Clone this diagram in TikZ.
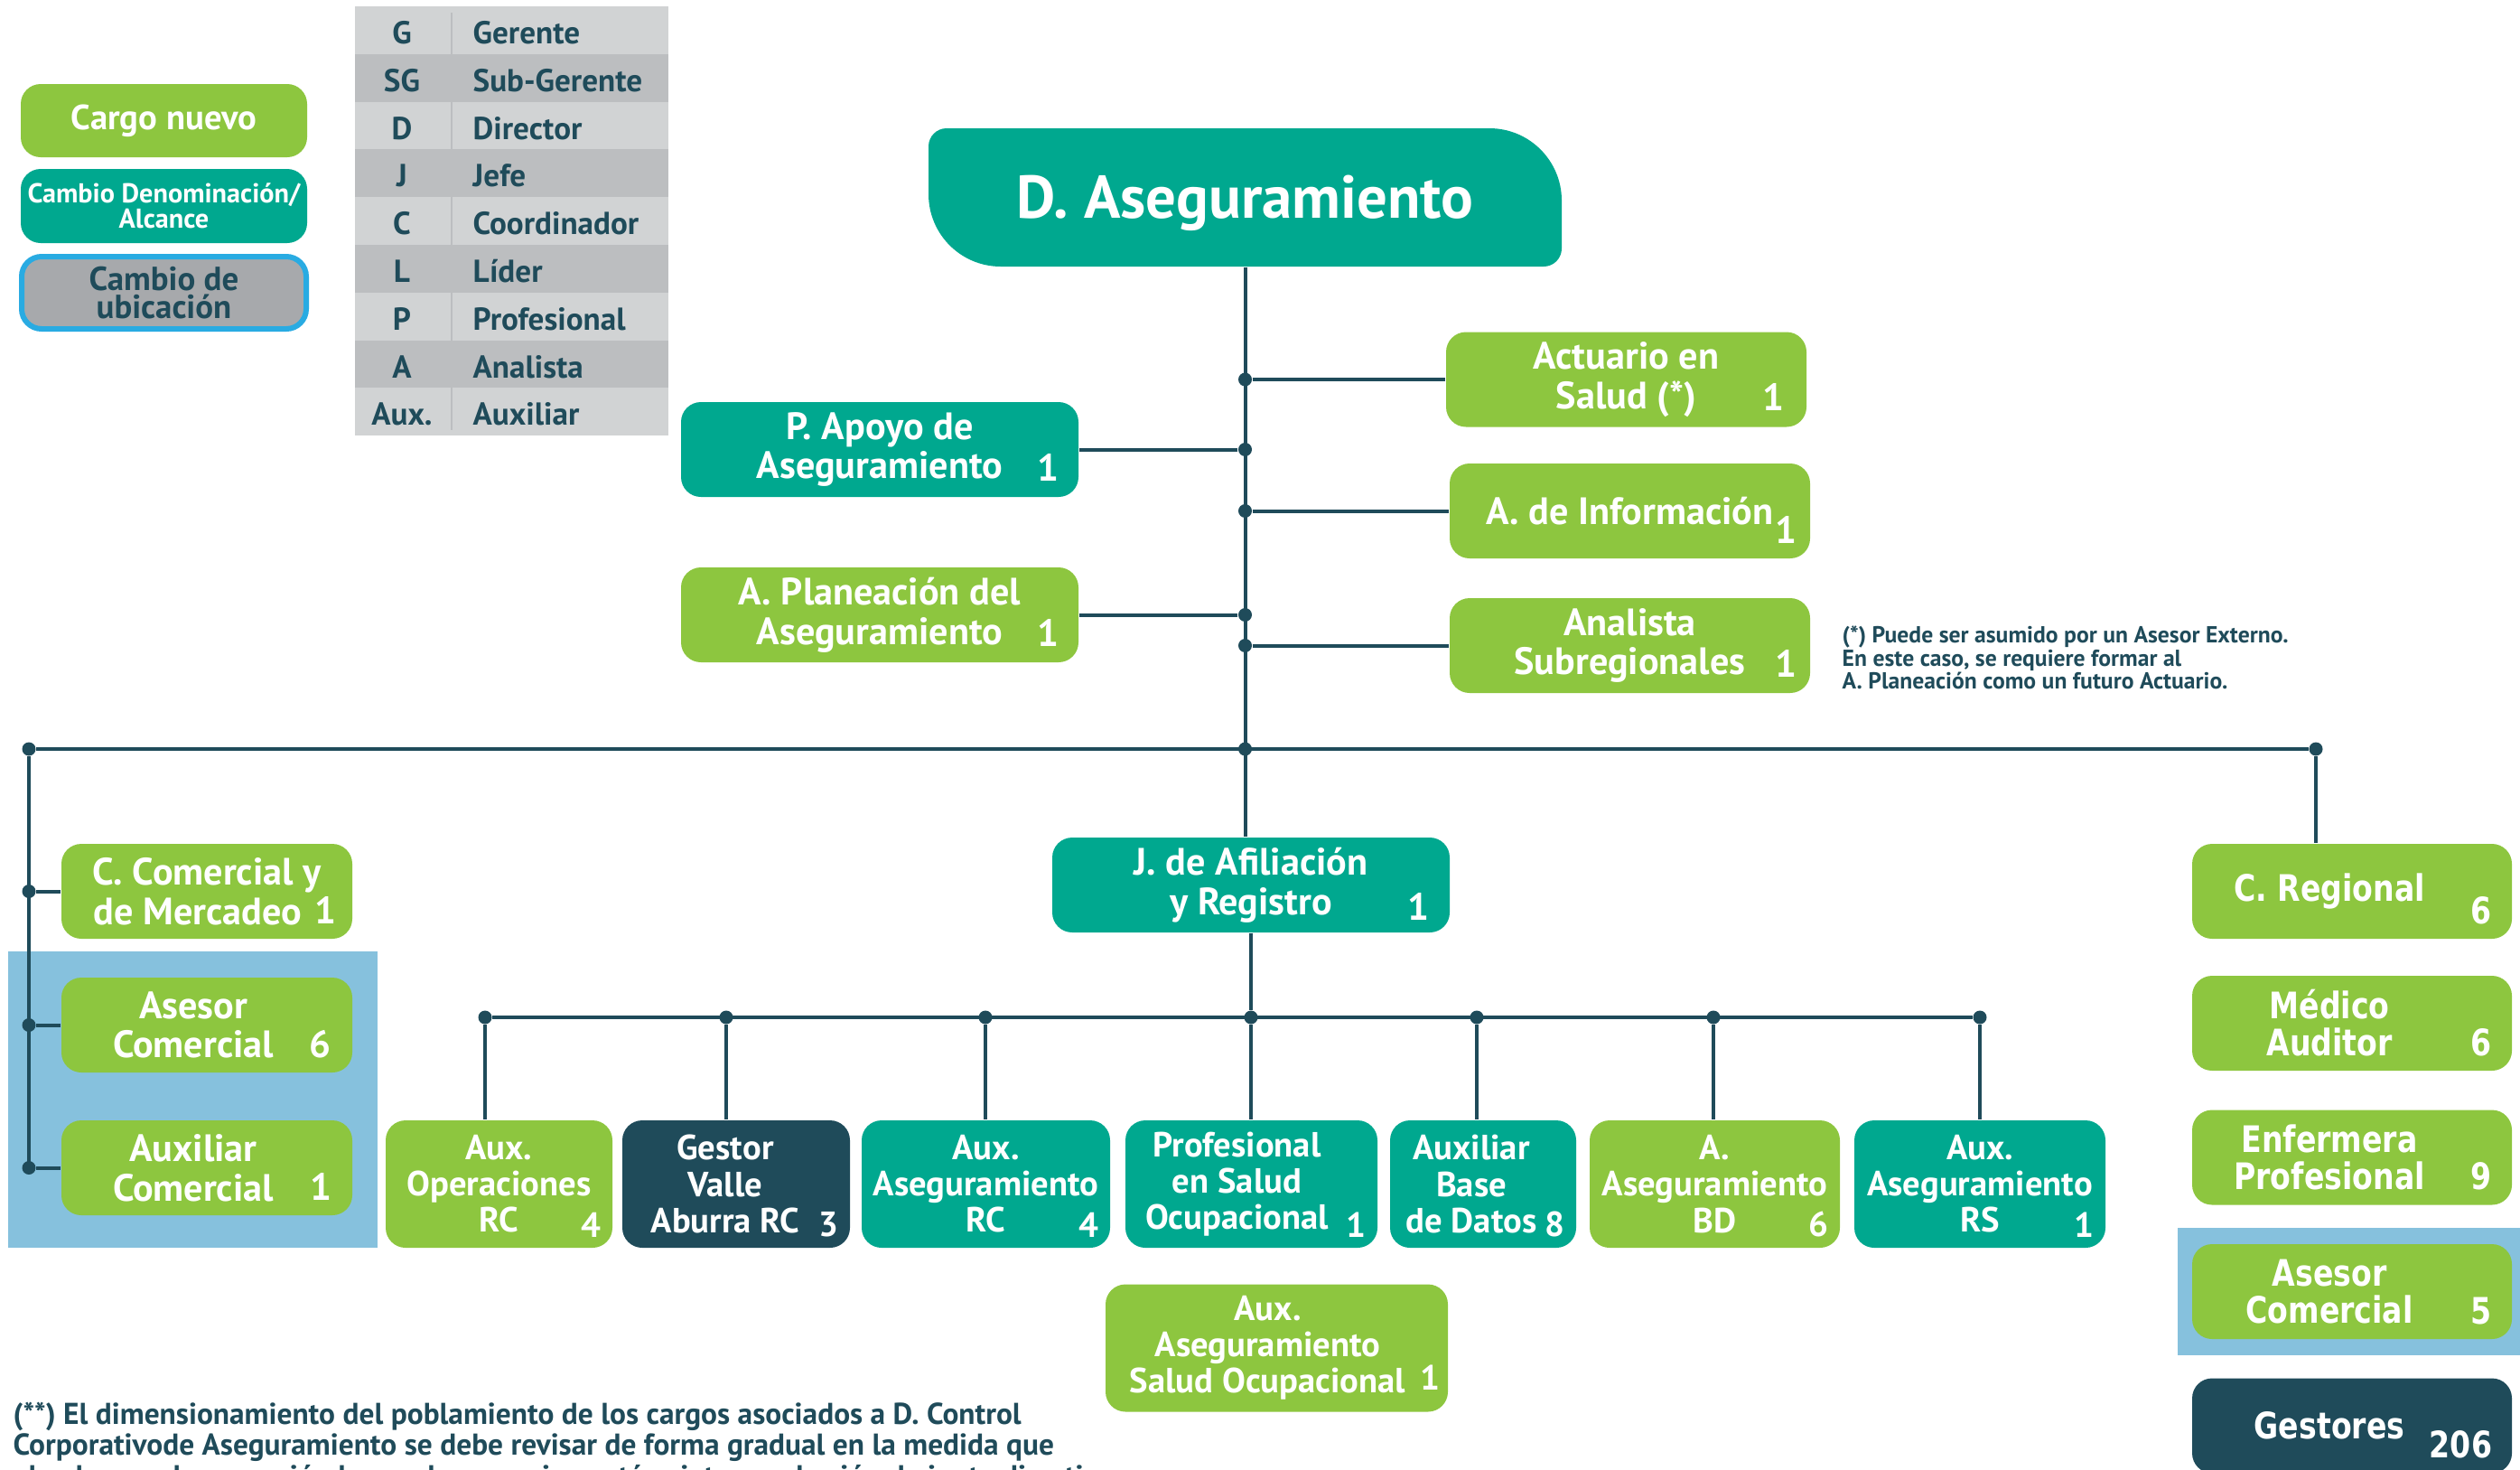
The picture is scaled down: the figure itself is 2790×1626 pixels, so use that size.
\documentclass[tikz,border=0pt]{standalone}
\usepackage{fontspec}
\setmainfont{PT Sans}
\newfontfamily\widesf{DejaVu Sans}[FakeStretch=0.82]
\definecolor{cnew}{HTML}{8DC63F}
\definecolor{cchg}{HTML}{00A88F}
\definecolor{cdark}{HTML}{1F4B5A}
\definecolor{cloc}{HTML}{A7A9AC}
\definecolor{cedge}{HTML}{29ABE2}
\definecolor{cblue}{HTML}{86C1DD}
\definecolor{rowA}{HTML}{D1D3D4}
\definecolor{rowB}{HTML}{BCBEC0}
\newcommand{\padr}[1]{\rule{#1}{0pt}}

\begin{document}
\begin{tikzpicture}[
  x=0.1mm, y=-0.1mm,
  box/.style={
    rounded corners=2.2mm, text=white, align=center,
    inner sep=0pt, minimum height=10.5mm,
    font=\bfseries\fontsize{12}{12.4}\selectfont
  },
  low/.style={box, minimum height=14.1mm, font=\bfseries\fontsize{11}{11.4}\selectfont},
  rgt/.style={box, minimum width=35.4mm, font=\widesf\bfseries\fontsize{11.5}{11.7}\selectfont},
  cnt/.style={text=white, inner sep=0pt, anchor=south east, font=\bfseries\fontsize{12}{12}\selectfont},
  dot/.style={circle, fill=cdark, inner sep=0pt, minimum size=1.5mm},
  link/.style={draw=cdark, line width=0.4mm},
  tab/.style={text=cdark, inner sep=0pt, font=\bfseries\fontsize{10}{10}\selectfont},
  note/.style={text=cdark, align=left, inner sep=0pt, anchor=north west}
]
  \useasboundingbox (0,0) rectangle (2790,1626);
  \clip (0,0) rectangle (2790,1626);

  % legend
  \node[box, fill=cnew, minimum width=31.7mm, minimum height=8.1mm,
    font=\bfseries\fontsize{11}{11}\selectfont] (lnew) at (181.5,133.5) {Cargo nuevo};
  \node[box, fill=cchg, minimum width=31.7mm, minimum height=8.2mm,
    font=\bfseries\fontsize{8.6}{7.8}\selectfont] (lchg) at (181.5,228) {Cambio Denominación/\\Alcance};
  \node[box, fill=cloc, draw=cedge, line width=0.6mm, text=cdark, minimum width=31.5mm,
    minimum height=8mm, font=\bfseries\fontsize{10.5}{9}\selectfont] (lloc) at (181.5,324) {Cambio de\\ubicación};

  % abbreviations
  \foreach \ab/\nm/\rc [count=\i] in {G/Gerente/rowA, SG/Sub-Gerente/rowB, D/Director/rowA,
      J/Jefe/rowB, C/Coordinador/rowA, L/Líder/rowB, P/Profesional/rowA, A/Analista/rowB,
      Aux./Auxiliar/rowA} {
    \fill[\rc] (393,{7+(\i-1)*52.8}) rectangle (740,{7+\i*52.8});
    \node[tab, anchor=base] (ab\i) at (445,{48.5+(\i-1)*52.8}) {\ab};
    \node[tab, anchor=base west] (nm\i) at (523,{48.5+(\i-1)*52.8}) {\nm};
  }
  \draw[rowB, line width=0.25mm] (500,14) -- (500,476);

  % director
  \fill[cchg] (1028,162) arc[start angle=180, end angle=270, radius=20] -- (1649,142)
    arc[start angle=270, end angle=360, radius=80] -- (1729,275)
    arc[start angle=0, end angle=90, radius=20] -- (1108,295)
    arc[start angle=90, end angle=180, radius=80] -- cycle;
  \node[text=white, inner sep=0pt, minimum width=70.1mm, minimum height=15.3mm,
    text height=13.3pt, text depth=0pt, font=\bfseries\fontsize{19}{19}\selectfont]
    (dir) at (1378.5,218.5) {D. Aseguramiento};

  % staff
  \node[box, fill=cnew, minimum width=39.9mm] (act) at (1800.5,420) {Actuario en\\Salud (*)};
  \node[cnt] (nact) at ([shift={(-2.5mm,1.8mm)}]act.south east) {1};
  \node[box, fill=cnew, minimum width=39.9mm] (inf) at (1804.5,565.5) {A. de Información};
  \node[cnt] (ninf) at ([shift={(-1.5mm,1.7mm)}]inf.south east) {1};
  \node[box, fill=cnew, minimum width=39.9mm] (sub) at (1804.5,714.5) {Analista\\Subregionales};
  \node[cnt] (nsub) at ([shift={(-1.5mm,1.8mm)}]sub.south east) {1};
  \node[box, fill=cchg, minimum width=44mm] (apo) at (974,497.5) {P. Apoyo de\\Aseguramiento};
  \node[cnt] (napo) at ([shift={(-2.2mm,1.8mm)}]apo.south east) {1};
  \node[box, fill=cnew, minimum width=44mm] (pla) at (974,680.5) {A. Planeación del\\Aseguramiento};
  \node[cnt] (npla) at ([shift={(-2.2mm,1.8mm)}]pla.south east) {1};
  \node[box, fill=cchg, minimum width=44mm] (J) at (1385,979.5) {J. de Afiliación\\y Registro};
  \node[cnt] (nJ) at ([shift={(-2.3mm,1.4mm)}]J.south east) {1};

  % commercial column
  \fill[cblue] (9,1053) rectangle (418,1381);
  \node[box, fill=cnew, minimum width=32.2mm] (com) at (229,986.5) {C. Comercial y\\de Mercadeo\padr{2mm}};
  \node[cnt] (ncom) at ([shift={(-1.8mm,1.7mm)}]com.south east) {1};
  \node[box, fill=cnew, minimum width=32.2mm] (ase) at (229,1134.5) {Asesor\padr{3mm}\\Comercial\padr{3mm}};
  \node[cnt] (nase) at ([shift={(-2.4mm,1.6mm)}]ase.south east) {6};
  \node[box, fill=cnew, minimum width=32.2mm] (auxc) at (229,1292.5) {Auxiliar\padr{3mm}\\Comercial\padr{3mm}};
  \node[cnt] (nauxc) at ([shift={(-2.3mm,1.7mm)}]auxc.south east) {1};

  % regional column
  \fill[cblue] (2411,1359) rectangle (2790,1500);
  \foreach \nm/\y/\fc/\txt/\n in {reg/986.5/cnew/{C. Regional\padr{5mm}}/6,
      med/1132.5/cnew/{Médico\padr{5mm}\\Auditor\padr{5mm}}/6,
      enf/1281/cnew/{Enfermera\padr{5mm}\\Profesional\padr{5mm}}/9,
      ase2/1429.5/cnew/{Asesor\padr{5mm}\\Comercial\padr{5mm}}/5,
      ges/1578/cdark/{Gestores\padr{5mm}}/206} {
    \node[rgt, fill=\fc] (\nm) at (2604,\y) {\txt};
    \node[cnt, font=\widesf\bfseries\fontsize{11.5}{11.5}\selectfont] (n\nm)
      at ([shift={(-2.2mm,1.6mm)}]\nm.south east) {\n};
  }

  % operation boxes
  \foreach \nm/\cx/\dx/\w/\fc/\txt/\n in {
      aop/552.5/537/25.1/cnew/{Aux.\\Operaciones\\RC}/4,
      gva/815/804/25.2/cdark/{Gestor\padr{2.4mm}\\Valle\padr{2.4mm}\\Aburra RC\padr{2.4mm}}/3,
      arc/1091.5/1091/27.5/cchg/{Aux.\\Aseguramiento\\RC}/4,
      pso/1385.5/1385/27.9/cchg/{Profesional\padr{3.2mm}\\en Salud\padr{3.2mm}\\Ocupacional\padr{3.2mm}}/1,
      bdd/1642/1635/20.6/cchg/{Auxiliar\padr{2.6mm}\\Base\padr{2.6mm}\\de Datos\padr{2.6mm}}/8,
      abd/1898.5/1897/27.7/cnew/{A.\\Aseguramiento\\BD}/6,
      ars/2192/2192/27.8/cchg/{Aux.\\Aseguramiento\\RS}/1} {
    \node[low, fill=\fc, minimum width=\w mm] (\nm) at (\cx,1310.5) {\txt};
    \node[cnt, font=\bfseries\fontsize{11}{11}\selectfont] (n\nm)
      at ([shift={(-1.3mm,1.2mm)}]\nm.south east) {\n};
    \node[dot] (s\nm) at (\dx,1126) {};
    \draw[link] (s\nm) -- (s\nm |- \nm.north);
  }
  \node[low, fill=cnew, minimum width=37.9mm] (aso) at (1413.5,1492)
    {Aux.\padr{2mm}\\Aseguramiento\padr{2mm}\\Salud Ocupacional\padr{2mm}};
  \node[cnt, font=\bfseries\fontsize{11}{11}\selectfont] (naso)
    at ([shift={(-0.9mm,2.4mm)}]aso.south east) {1};

  % connectors
  \draw[link] (dir.south) -- (dir.south |- J.north);
  \foreach \b in {act, inf, sub, apo, pla} {
    \node[dot] (d\b) at (dir.south |- \b.west) {};
    \draw[link] (d\b) -- (\b);
  }
  \node[dot] (bL) at (32,829) {};
  \node[dot] (bM) at (1378.5,829) {};
  \node[dot] (bR) at (2564,829) {};
  \draw[link] (bL) -- (bR);
  \draw[link] (bL) -- (bL |- auxc.west);
  \draw[link] (bR) -- (bR |- reg.north);
  \foreach \b in {com, ase, auxc} {
    \node[dot] (d\b) at (bL |- \b.west) {};
    \draw[link] (d\b) -- (\b);
  }
  \draw[link] (J) -- (spso);
  \draw[link] (saop) -- (sars);

  % notes
  \node[note, font=\bfseries\fontsize{7.3}{7.3}\selectfont] (nt1) at (2039,692)
    {(*) Puede ser asumido por un Asesor Externo.\\En este caso, se requiere formar al\\A. Planeación como un futuro Actuario.};
  \node[note, font=\bfseries\fontsize{9.5}{8.1}\selectfont] (nt2) at (14,1551)
    {(**) El dimensionamiento del poblamiento de los cargos asociados a D. Control\\Corporativode Aseguramiento se debe revisar de forma gradual en la medida que\\el volumen de operación lo puede requerir y está sujeto aprobación de junta directiva};
\end{tikzpicture}
\end{document}
